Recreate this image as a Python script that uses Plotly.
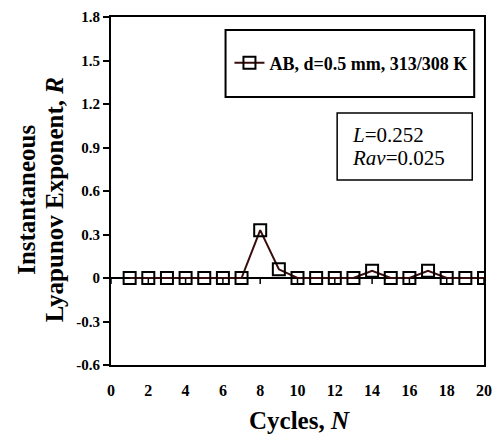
import plotly.graph_objects as go

cycles = list(range(1, 21))
R_values = [0, 0, 0, 0, 0, 0, 0, 0.33, 0.06, 0, 0, 0, 0, 0.05, 0, 0, 0.05, 0, 0, 0]
series_name = "AB, d=0.5 mm, 313/308 K"
x_ticks = list(range(0, 21, 2))
y_ticks = [-0.6, -0.3, 0, 0.3, 0.6, 0.9, 1.2, 1.5, 1.8]
y_tick_text = ["-0.6", "-0.3", "0", "0.3", "0.6", "0.9", "1.2", "1.5", "1.8"]
stats_lines = ["<i>L</i>=0.252", "<i>Rav</i>=0.025"]
y_title_lines = ["Instantaneous", "Lyapunov Exponent, <i>R</i>"]
x_title = "Cycles, <i>N</i>"

FONT = "Liberation Serif"


def px_x(p):
    return (p - 111) / 381


def px_y(p):
    return (365 - p) / 348


fig = go.Figure()
fig.add_trace(go.Scatter(
    x=cycles, y=R_values, mode="lines+markers", name=series_name,
    line=dict(color="#3a0d0d", width=2),
    marker=dict(symbol="square-open", size=12, color="black", line=dict(width=2, color="black")),
))

shapes = []
for t in x_ticks:
    shapes.append(dict(type="line", xref="x", yref="y", x0=t, x1=t,
                       ysizemode="pixel", yanchor=0, y0=0, y1=-6,
                       line=dict(color="black", width=1.5)))
# legend frame
shapes.append(dict(type="rect", xref="paper", yref="paper",
                   x0=px_x(228), x1=px_x(482), y0=px_y(97), y1=px_y(30),
                   line=dict(color="black", width=2), fillcolor="rgba(0,0,0,0)"))
# stats frame
shapes.append(dict(type="rect", xref="paper", yref="paper",
                   x0=px_x(342), x1=px_x(480), y0=px_y(180), y1=px_y(113),
                   line=dict(color="black", width=1.5), fillcolor="rgba(0,0,0,0)"))

annotations = [
    dict(text=x_title, xref="paper", yref="paper",
         x=px_x(304), y=px_y(420), xanchor="center", yanchor="middle",
         showarrow=False,
         font=dict(family=FONT, size=25, color="black", weight="bold")),
]
for txt, yc in zip(stats_lines, [135, 158]):
    annotations.append(dict(text=txt, xref="paper", yref="paper",
                            x=px_x(355), y=px_y(yc), xanchor="left", yanchor="middle",
                            showarrow=False,
                            font=dict(family=FONT, size=21, color="black")))
for txt, xc in zip(y_title_lines, [24, 53]):
    annotations.append(dict(text=txt, xref="paper", yref="paper",
                            x=px_x(xc), y=px_y(200), xanchor="center", yanchor="middle",
                            textangle=-90, showarrow=False,
                            font=dict(family=FONT, size=25, color="black", weight="bold")))

fig.update_layout(
    width=500, height=443,
    margin=dict(l=111, r=8, t=17, b=78),
    paper_bgcolor="white", plot_bgcolor="white",
    font=dict(family=FONT, color="black"),
    showlegend=True,
    legend=dict(x=px_x(232), xanchor="left", y=px_y(63), yanchor="middle",
                bgcolor="rgba(0,0,0,0)", borderwidth=0,
                font=dict(family=FONT, size=18, color="black", weight="bold"),
                itemwidth=30),
    xaxis=dict(range=[0, 20], tickvals=x_ticks, ticks="", showgrid=False, zeroline=False,
               showline=True, mirror=True, linecolor="black", linewidth=2,
               tickfont=dict(family=FONT, size=16, weight="bold"),
               ticklabelstandoff=10),
    yaxis=dict(range=[-0.6, 1.8], tickvals=y_ticks, ticktext=y_tick_text,
               ticks="outside", ticklen=6, tickwidth=1.5, tickcolor="black",
               showgrid=False, zeroline=True, zerolinecolor="black", zerolinewidth=1.5,
               showline=True, mirror=True, linecolor="black", linewidth=2,
               tickfont=dict(family=FONT, size=15, weight="bold")),
    shapes=shapes,
    annotations=annotations,
)

fig.write_html("out.html")
